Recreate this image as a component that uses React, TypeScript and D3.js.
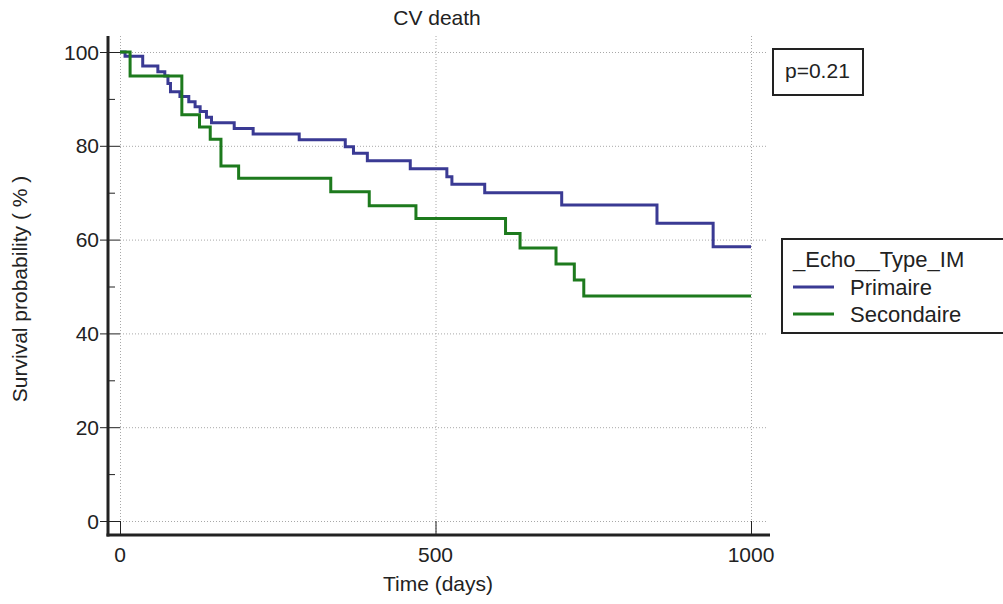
import React, { useEffect, useRef } from "react";
import * as d3 from "d3";

// Kaplan-Meier steps (time in days, survival in %)
const primaireTime = [0, 8, 36, 60, 71, 76, 80, 95, 109, 119, 127, 137, 145, 181, 211, 284, 357, 370, 392, 460, 518, 526, 578, 700, 851, 940, 1000];
const primaireSurv = [100, 99.1, 97.0, 95.8, 94.9, 93.3, 91.5, 90.5, 89.4, 88.3, 87.3, 86.1, 84.9, 83.7, 82.5, 81.3, 79.8, 78.4, 76.8, 75.1, 73.4, 71.8, 70.0, 67.4, 63.5, 58.5, 58.5];

const secondaireTime = [0, 16, 98, 126, 143, 160, 188, 334, 395, 469, 611, 634, 691, 720, 735, 1000];
const secondaireSurv = [100, 94.9, 86.6, 84.0, 81.4, 75.7, 73.1, 70.2, 67.2, 64.5, 61.3, 58.2, 54.8, 51.4, 48.0, 48.0];

const xTicks = [0, 500, 1000];
const yTicks = [0, 20, 40, 60, 80, 100];
const yMinorTicks = [10, 30, 50, 70, 90];

const seriesNames = ["Primaire", "Secondaire"];
const seriesColors = ["#3a3a94", "#1d7a1d"];
const legendTitle = "_Echo__Type_IM";
const pValue = "p=0.21";

const width = 1003;
const height = 604;
const font = "'Liberation Sans', Arial, sans-serif";

export default function App() {
  const ref = useRef<SVGSVGElement>(null);

  useEffect(() => {
    const svg = d3.select(ref.current);
    svg.selectAll("*").remove();

    const x = d3.scaleLinear().domain([0, 1000]).range([120, 751]);
    const y = d3.scaleLinear().domain([0, 100]).range([521, 52]);
    const top = 36;
    const axisY = 535;
    const axisX = 108;
    const right = 768;

    // grid
    const grid = svg.append("g")
      .attr("stroke", "#a8a8a8")
      .attr("stroke-width", 1)
      .attr("stroke-dasharray", "1,2");
    grid.selectAll(".h").data(yTicks).join("line")
      .attr("x1", x(0)).attr("x2", right)
      .attr("y1", (d) => y(d) + 0.5).attr("y2", (d) => y(d) + 0.5);
    grid.selectAll(".v").data(xTicks).join("line")
      .attr("x1", (d) => x(d) + 0.5).attr("x2", (d) => x(d) + 0.5)
      .attr("y1", top).attr("y2", axisY);

    // curves
    const series = [
      primaireTime.map((t, i) => [t, primaireSurv[i]]),
      secondaireTime.map((t, i) => [t, secondaireSurv[i]]),
    ];
    const line = d3.line<number[]>()
      .x((d) => x(d[0]))
      .y((d) => y(d[1]))
      .curve(d3.curveStepAfter);
    series.forEach((s, i) => {
      svg.append("path")
        .attr("d", line(s))
        .attr("fill", "none")
        .attr("stroke", seriesColors[i])
        .attr("stroke-width", 3);
    });

    // axes
    const axes = svg.append("g").attr("stroke", "#222");
    axes.append("line")
      .attr("x1", axisX).attr("x2", axisX)
      .attr("y1", top).attr("y2", axisY + 1.5)
      .attr("stroke-width", 3);
    axes.append("line")
      .attr("x1", axisX - 1.5).attr("x2", 770)
      .attr("y1", axisY).attr("y2", axisY)
      .attr("stroke-width", 3);
    axes.selectAll(".yt").data(yTicks).join("line")
      .attr("x1", 100).attr("x2", x(0))
      .attr("y1", (d) => y(d) + 0.5).attr("y2", (d) => y(d) + 0.5)
      .attr("stroke-width", 1);
    axes.selectAll(".ym").data(yMinorTicks).join("line")
      .attr("x1", axisX).attr("x2", 115)
      .attr("y1", (d) => y(d) + 0.5).attr("y2", (d) => y(d) + 0.5)
      .attr("stroke-width", 1);
    axes.selectAll(".xt").data(xTicks).join("line")
      .attr("x1", (d) => x(d) + 0.5).attr("x2", (d) => x(d) + 0.5)
      .attr("y1", y(0)).attr("y2", axisY)
      .attr("stroke-width", 1);

    const text = svg.append("g")
      .attr("font-family", font)
      .attr("fill", "#222");

    text.selectAll(".yl").data(yTicks).join("text")
      .attr("x", 99).attr("y", (d) => y(d) + 7.5)
      .attr("text-anchor", "end")
      .attr("font-size", 21)
      .text((d) => d);
    text.selectAll(".xl").data(xTicks).join("text")
      .attr("x", (d) => x(d)).attr("y", 562)
      .attr("text-anchor", "middle")
      .attr("font-size", 21)
      .text((d) => d);

    text.append("text")
      .attr("x", 437).attr("y", 25)
      .attr("text-anchor", "middle")
      .attr("font-size", 21)
      .text("CV death");
    text.append("text")
      .attr("x", 438).attr("y", 591)
      .attr("text-anchor", "middle")
      .attr("font-size", 21)
      .text("Time (days)");
    text.append("text")
      .attr("transform", `translate(27,289) rotate(-90)`)
      .attr("text-anchor", "middle")
      .attr("font-size", 21)
      .text("Survival probability ( % )");

    // p-value box
    svg.append("rect")
      .attr("x", 773).attr("y", 49).attr("width", 90).attr("height", 46)
      .attr("fill", "none").attr("stroke", "#222").attr("stroke-width", 2);
    text.append("text")
      .attr("x", 785).attr("y", 78)
      .attr("font-size", 21)
      .text(pValue);

    // legend
    svg.append("rect")
      .attr("x", 782).attr("y", 239).attr("width", 240).attr("height", 94)
      .attr("fill", "none").attr("stroke", "#222").attr("stroke-width", 2);
    text.append("text")
      .attr("x", 793).attr("y", 267)
      .attr("font-size", 22)
      .text(legendTitle);
    seriesNames.forEach((name, i) => {
      const ly = 287 + i * 27;
      svg.append("line")
        .attr("x1", 793).attr("x2", 834)
        .attr("y1", ly).attr("y2", ly)
        .attr("stroke", seriesColors[i]).attr("stroke-width", 3);
      text.append("text")
        .attr("x", 850).attr("y", ly + 8)
        .attr("font-size", 22)
        .text(name);
    });
  }, []);

  return (
    <svg
      ref={ref}
      width={width}
      height={height}
      style={{ position: "absolute", left: 0, top: 0, background: "#fff" }}
    />
  );
}
